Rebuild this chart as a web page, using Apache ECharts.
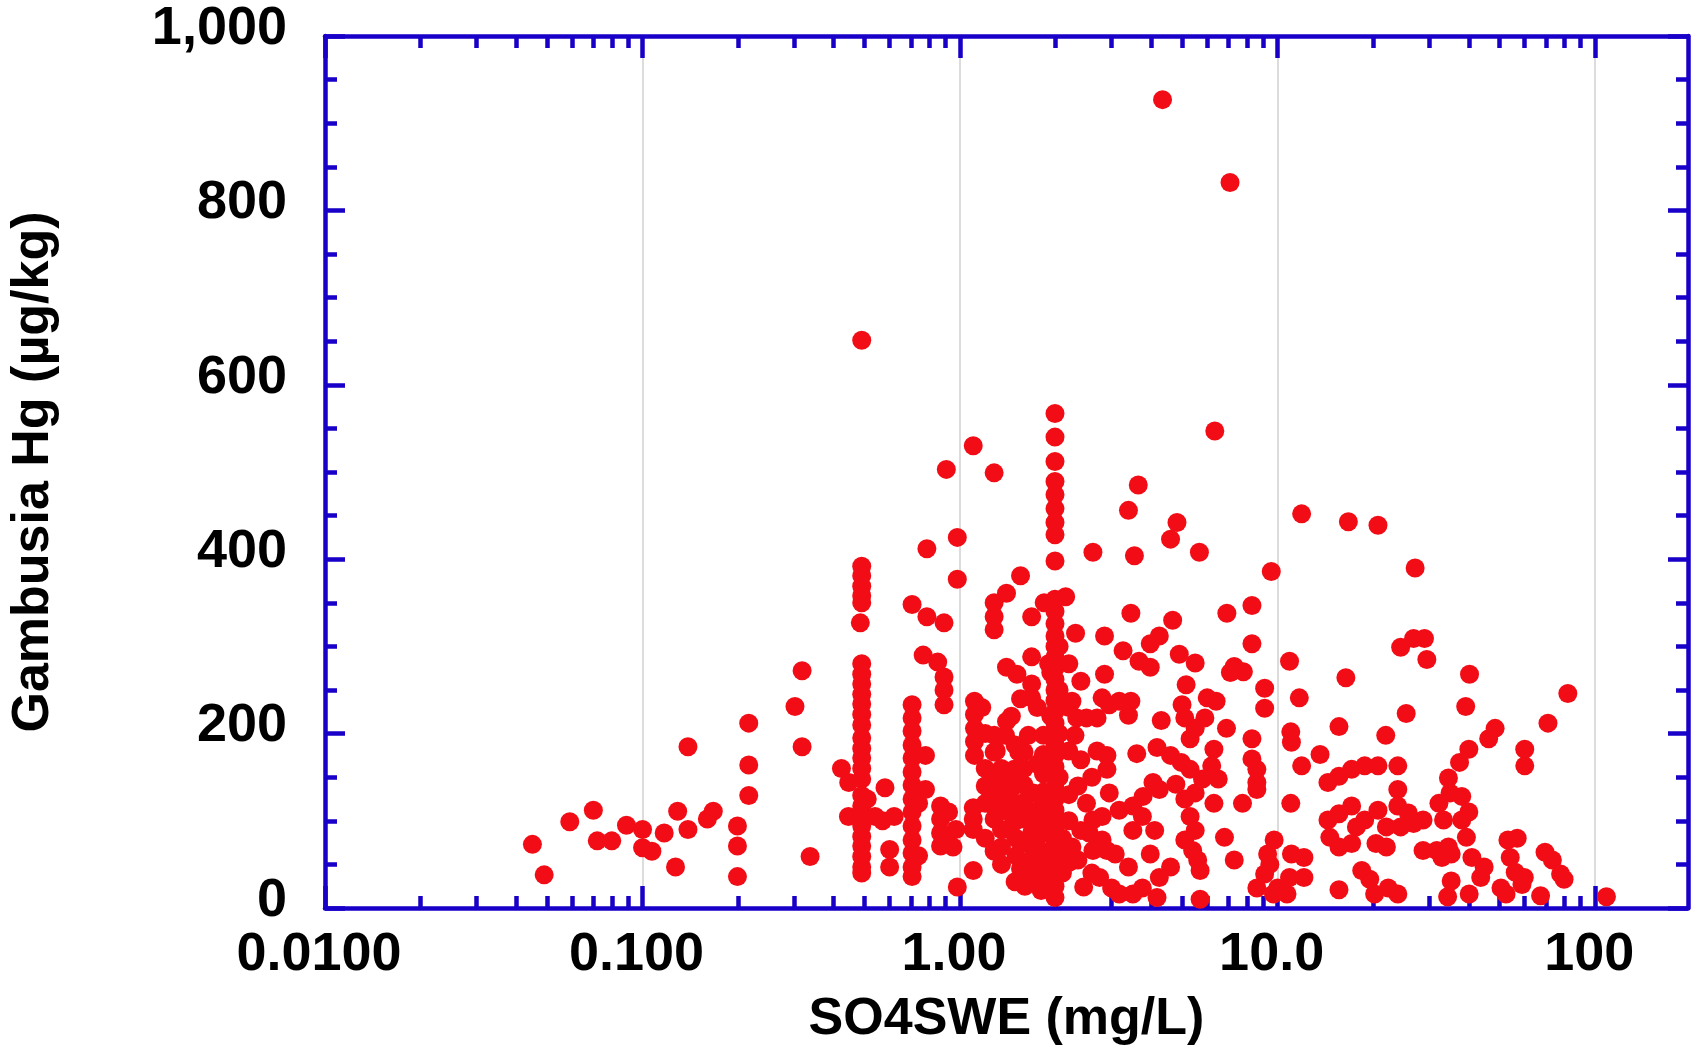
<!DOCTYPE html>
<html>
<head>
<meta charset="utf-8">
<title>Gambusia Hg vs SO4SWE</title>
<script src="https://cdn.jsdelivr.net/npm/echarts@6/dist/echarts.min.js"></script>
<style>
  html, body { margin: 0; padding: 0; background: #fff; }
  #chart { width: 1691px; height: 1052px; }
</style>
</head>
<body>
<div id="chart"></div>
<script>
// tick values / labels
var xMajorTicks = [0.01, 0.1, 1, 10, 100];
var xTickLabels = ['0.0100', '0.100', '1.00', '10.0', '100'];
var xMinorTicks = [0.02, 0.03, 0.04, 0.05, 0.06, 0.07, 0.08, 0.09,
                   0.2, 0.3, 0.4, 0.5, 0.6, 0.7, 0.8, 0.9,
                   2, 3, 4, 5, 6, 7, 8, 9,
                   20, 30, 40, 50, 60, 70, 80, 90];
var yTickLabels = ['0', '200', '400', '600', '800', '1,000'];

// samples [SO4SWE mg/L, Gambusia Hg ug/kg]
var lowSulfate = [
    [0.045, 73], [0.049, 38], [0.059, 99], [0.070, 112], [0.072, 77], [0.080, 77],
    [0.089, 95], [0.100, 90], [0.100, 69], [0.107, 65], [0.117, 86], [0.129, 111],
    [0.127, 47], [0.139, 90], [0.139, 185], [0.160, 102], [0.167, 111], [0.199, 94],
    [0.199, 71], [0.199, 36], [0.216, 212], [0.216, 164], [0.216, 129], [0.302, 231],
    [0.318, 272], [0.318, 185], [0.337, 59]
];
var col05 = [
    [0.49, 651], [0.49, 392], [0.49, 381], [0.49, 369], [0.49, 358], [0.49, 350],
    [0.485, 327], [0.49, 280], [0.49, 268], [0.49, 257], [0.49, 245], [0.49, 234],
    [0.49, 222], [0.49, 210], [0.49, 195], [0.49, 183], [0.49, 172], [0.49, 160],
    [0.49, 148], [0.49, 129], [0.49, 117], [0.49, 105], [0.49, 94], [0.49, 82],
    [0.49, 71], [0.49, 59], [0.49, 47], [0.49, 40], [0.423, 160], [0.446, 144],
    [0.445, 105], [0.54, 105], [0.62, 105], [0.58, 138], [0.60, 67], [0.60, 47],
    [0.51, 125], [0.57, 100]
];
var col07 = [
    [0.706, 233], [0.706, 218], [0.706, 203], [0.706, 187], [0.706, 172], [0.706, 156],
    [0.706, 141], [0.706, 125], [0.706, 110], [0.706, 94], [0.706, 78], [0.706, 63],
    [0.706, 47], [0.706, 36], [0.778, 175], [0.778, 136], [0.706, 348], [0.786, 334],
    [0.89, 327], [0.765, 290], [0.85, 282], [0.89, 265], [0.89, 250], [0.89, 233],
    [0.786, 412], [0.905, 503], [0.98, 425], [0.98, 377], [0.868, 117], [0.868, 102],
    [0.868, 86], [0.868, 71], [0.92, 110], [0.97, 90], [0.98, 24], [0.74, 120],
    [0.74, 60], [0.9, 80], [0.95, 70]
];
var mid1to2 = [
    [1.10, 530], [1.28, 499], [1.10, 115], [1.10, 102], [1.10, 90], [1.10, 43],
    [1.11, 237], [1.11, 222], [1.11, 206], [1.11, 191], [1.11, 175], [1.17, 230],
    [1.28, 198], [1.28, 179], [1.28, 148], [1.28, 133], [1.28, 117], [1.28, 102],
    [1.28, 65], [1.28, 350], [1.28, 334], [1.28, 319], [1.40, 361], [1.55, 381],
    [1.40, 276], [1.40, 214], [1.49, 187], [1.51, 268], [1.68, 288], [1.68, 334],
    [1.68, 257], [1.68, 241], [1.59, 179], [1.59, 160], [1.59, 141], [1.59, 121],
    [1.59, 102], [1.42, 141], [1.42, 125], [1.42, 110], [1.42, 90], [1.49, 30],
    [1.68, 102], [1.68, 86], [1.68, 71], [1.68, 55], [1.68, 40], [1.83, 198],
    [1.83, 176], [1.83, 154], [1.83, 133], [1.83, 121], [1.89, 102], [1.89, 86],
    [1.89, 63], [1.89, 40], [1.89, 24], [1.84, 350], [1.39, 198], [1.53, 179],
    [1.48, 159], [1.48, 140], [1.64, 198], [1.70, 132], [1.64, 112], [1.73, 97],
    [1.77, 86], [1.82, 62], [1.80, 50], [1.73, 31],
    [1.2, 160], [1.2, 140], [1.2, 120], [1.2, 80], [1.35, 160], [1.35, 90],
    [1.35, 70], [1.35, 50], [1.5, 150], [1.5, 120], [1.5, 100], [1.5, 80],
    [1.5, 60], [1.55, 45], [1.6, 75], [1.75, 165], [1.75, 110], [1.75, 70],
    [1.75, 45], [1.6, 25], [1.8, 20], [1.45, 220], [1.55, 240], [1.75, 230],
    [1.9, 280], [1.3, 180], [1.2, 200]
];
var col2 = [
    [1.99, 567], [1.99, 540], [1.99, 512], [1.99, 489], [1.99, 474], [1.99, 458],
    [1.99, 442], [1.99, 428], [1.99, 398], [1.99, 354], [1.99, 340], [1.99, 326],
    [1.99, 312], [1.99, 300], [1.99, 288], [1.99, 275], [1.99, 262], [1.99, 250],
    [1.99, 238], [1.99, 225], [1.99, 212], [1.99, 200], [1.99, 188], [1.99, 175],
    [1.99, 162], [1.99, 150], [1.99, 138], [1.99, 125], [1.99, 112], [1.99, 100],
    [1.99, 88], [1.99, 75], [1.99, 62], [1.99, 50], [1.99, 38], [1.99, 25],
    [1.99, 12], [2.05, 300], [2.05, 250], [2.05, 200], [2.05, 150], [2.05, 100],
    [2.05, 60], [1.93, 270], [1.93, 220], [1.93, 170], [1.93, 130], [2.1, 80],
    [2.1, 40], [2.15, 357], [2.31, 315]
];
var mid2to10 = [
    [2.62, 408], [3.39, 456], [3.64, 485], [3.54, 404], [4.60, 423], [4.82, 442],
    [6.34, 547], [5.67, 408], [9.55, 386], [4.34, 927], [7.08, 832],
    [2.85, 312], [3.45, 338], [4.67, 330], [6.92, 338], [8.3, 347], [8.3, 303],
    [4.24, 312], [3.97, 303], [3.26, 295], [3.66, 283], [3.97, 276], [4.9, 291],
    [5.5, 281], [5.15, 256], [7.3, 277], [7.1, 270], [7.8, 271], [9.1, 252], [9.1, 229],
    [2.85, 268], [2.8, 241], [3.17, 237], [3.45, 237], [3.39, 221], [2.95, 233],
    [4.3, 215], [5.0, 233], [5.1, 218], [5.5, 206], [6.0, 241], [6.4, 237],
    [5.9, 218], [6.9, 206], [6.3, 182], [6.2, 163], [5.3, 194], [3.6, 177],
    [4.17, 184], [4.6, 175], [4.97, 167], [5.3, 159], [5.8, 148], [6.5, 148],
    [5.5, 132], [5.1, 125], [4.05, 144], [3.77, 128], [4.24, 136], [4.78, 142],
    [6.3, 120], [7.75, 120], [8.3, 194], [8.3, 171], [8.6, 159], [8.6, 144], [8.6, 136],
    [2.9, 175], [2.9, 159], [2.95, 132], [3.17, 112], [3.5, 117], [3.75, 105],
    [4.1, 89], [2.8, 105], [2.62, 101], [2.55, 86], [2.8, 78], [2.62, 66],
    [2.9, 66], [3.08, 62], [3.5, 89], [3.39, 47], [2.75, 35], [3.0, 23],
    [3.17, 16], [3.5, 16], [3.75, 23], [3.97, 62], [4.6, 47], [4.24, 35],
    [4.17, 12], [5.7, 10], [5.1, 78], [5.4, 66], [5.6, 55], [5.7, 43],
    [5.3, 105], [5.5, 89], [6.8, 81], [7.3, 55], [8.6, 23], [9.3, 62],
    [9.75, 78], [9.45, 50], [9.1, 39],
    [2.35, 140], [2.3, 198], [2.33, 218], [2.25, 237], [2.5, 218], [2.7, 218],
    [2.4, 89], [2.25, 70], [2.35, 55], [2.2, 52], [2.45, 24],
    [2.2, 280], [2.2, 230], [2.2, 180], [2.2, 130], [2.2, 100], [2.4, 260],
    [2.4, 170], [2.5, 120], [2.6, 150], [2.6, 40], [2.7, 180]
];
var highSulfate = [
    [10.0, 23], [11.05, 62], [12.1, 58], [10.9, 35], [12.1, 35], [9.7, 16], [10.7, 16],
    [11.9, 452], [16.7, 443], [20.7, 439], [27.1, 390], [82, 246], [71, 212],
    [60, 182], [60, 163], [48.4, 206], [46.2, 194], [40.2, 268], [39.1, 231],
    [40, 182], [37.4, 167], [34.5, 149], [38, 128], [38, 101], [40, 110],
    [33.3, 101], [39.3, 81], [31.7, 66], [28.7, 66], [35.2, 62], [40.9, 58],
    [44.7, 47], [53.1, 78], [56.8, 80], [54, 58], [56, 41], [58.8, 27],
    [52.4, 16], [67.3, 14], [69.5, 64], [73.3, 55], [77.8, 39], [79.8, 33],
    [108.5, 13], [35.2, 31], [34.3, 13], [40.1, 16], [50.5, 23], [43.6, 35],
    [59.8, 35], [28.7, 101], [32.2, 120], [34.9, 132], [32.9, 58], [34.5, 70],
    [10.9, 283], [11.7, 241], [11.0, 202], [11.05, 190], [11.9, 163], [13.6, 176],
    [11.0, 120], [15.6, 208], [16.4, 264], [21.9, 198], [25.4, 223], [24.4, 299],
    [26.8, 309], [29, 309], [29.5, 285],
    [14.4, 144], [15.6, 151], [17.1, 159], [18.8, 163], [20.7, 163], [23.9, 163],
    [23.9, 136], [23.9, 117], [17.1, 117], [14.4, 101], [15.6, 108], [14.6, 81],
    [15.6, 70], [17.1, 74], [17.7, 93], [18.8, 101], [20.7, 112], [22, 93],
    [22, 70], [20.4, 74], [25.8, 109], [24.4, 93], [26.8, 97], [19.5, 33],
    [20.2, 16], [22.3, 23], [23.9, 16], [18.4, 43], [15.6, 21]
];

var allPoints = [].concat(lowSulfate, col05, col07, mid1to2, col2, mid2to10, highSulfate);

var BLUE = '#1800c8';
var FONT = 'Liberation Sans, Arial, Helvetica, sans-serif';

var chart = echarts.init(document.getElementById('chart'), null, { renderer: 'canvas' });

// common pieces for the log x axes (bottom + top, major + minor)
function logAxis(pos, ticks, len, showLine) {
    return {
        type: 'log',
        logBase: 10,
        min: 0.01,
        max: 196,
        position: pos,
        axisLine: { show: showLine, onZero: false, lineStyle: { color: BLUE, width: 4.5 } },
        axisTick: { show: true, inside: true, length: len, customValues: ticks,
                    lineStyle: { color: BLUE, width: 4.5 } },
        minorTick: { show: false },
        axisLabel: { show: false },
        splitLine: { show: false }
    };
}

var xBottom = logAxis('bottom', xMajorTicks, 22, true);
xBottom.axisLabel = {
    show: true,
    customValues: xMajorTicks,
    margin: 20,
    padding: [0, 12, 0, 0],
    fontSize: 54,
    fontWeight: 'bold',
    fontFamily: FONT,
    color: '#000',
    formatter: function (v) {
        return xTickLabels[Math.round(Math.log10(v)) + 2];
    }
};
xBottom.splitLine = { show: true, lineStyle: { color: '#dcdcdc', width: 2 } };
xBottom.name = 'SO4SWE (mg/L)';
xBottom.nameLocation = 'middle';
xBottom.nameGap = 86;
xBottom.nameTextStyle = { fontSize: 52, fontWeight: 'bold', fontFamily: FONT, color: '#000' };

function valueAxis(pos) {
    return {
        type: 'value',
        position: pos,
        min: 0,
        max: 1000,
        interval: 200,
        axisLine: { show: true, onZero: false, lineStyle: { color: BLUE, width: 4.5 } },
        axisTick: { show: true, inside: true, length: 20, lineStyle: { color: BLUE, width: 4.5 } },
        minorTick: { show: true, splitNumber: 4, length: 12, lineStyle: { color: BLUE, width: 4.5 } },
        axisLabel: { show: false },
        splitLine: { show: false }
    };
}

// labels sit a little above their ticks in the original
var yLeft = valueAxis('left');
yLeft.axisLabel = {
    show: true,
    margin: 38,
    verticalAlign: 'bottom',
    lineHeight: 14,
    fontSize: 54,
    fontWeight: 'bold',
    fontFamily: FONT,
    color: '#000',
    formatter: function (v) { return yTickLabels[Math.round(v / 200)]; }
};
yLeft.name = 'Gambusia Hg (µg/kg)';
yLeft.nameLocation = 'middle';
yLeft.nameGap = 265;
yLeft.nameTextStyle = { fontSize: 52, fontWeight: 'bold', fontFamily: FONT, color: '#000' };

var option = {
    animation: false,
    backgroundColor: '#fff',
    grid: { left: 322, right: 3, top: 36, bottom: 144, containLabel: false },
    xAxis: [
        xBottom,
        logAxis('bottom', xMinorTicks, 12, false),
        logAxis('top', xMajorTicks, 22, true),
        logAxis('top', xMinorTicks, 12, false)
    ],
    yAxis: [yLeft, valueAxis('right')],
    series: [{
        type: 'scatter',
        xAxisIndex: 0,
        yAxisIndex: 0,
        symbol: 'circle',
        symbolSize: 19,
        clip: false,
        itemStyle: { color: '#f20d16', opacity: 1 },
        data: allPoints
    }]
};
chart.setOption(option);
</script>
</body>
</html>
